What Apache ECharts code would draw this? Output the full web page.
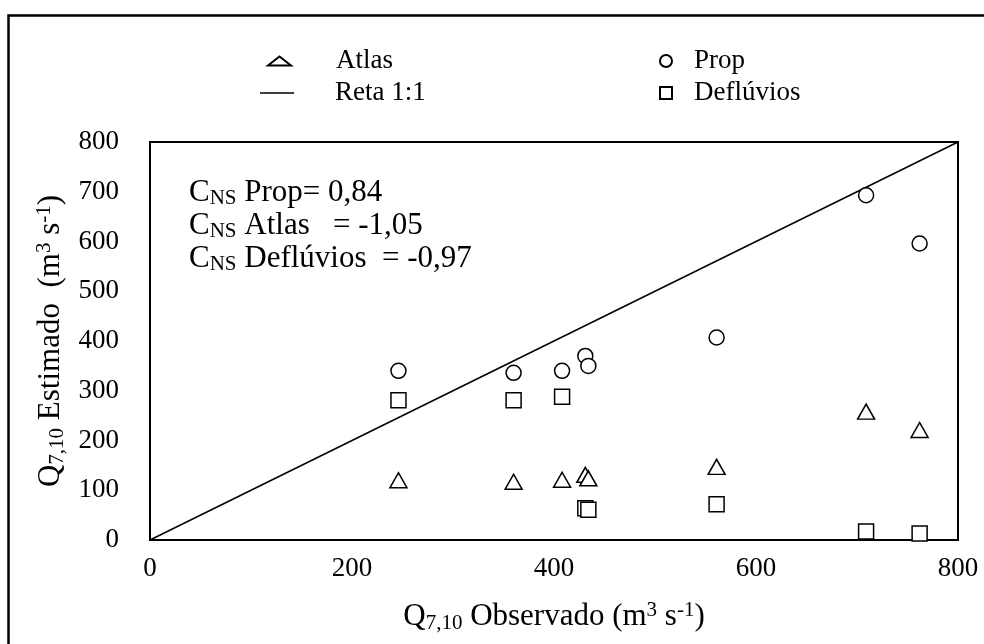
<!DOCTYPE html>
<html>
<head>
<meta charset="utf-8">
<script src="https://cdn.jsdelivr.net/npm/echarts@6/dist/echarts.min.js"></script>
<style>
  html, body { margin: 0; padding: 0; background: #fff; }
  #chart { width: 984px; height: 644px; }
</style>
</head>
<body>
<div id="chart"></div>
<script>
// Observed Q7,10 at each station (m3 s-1)
const observed = [246, 360, 408, 431, 434, 561, 709, 762];
// Estimated Q7,10 by each method (m3 s-1)
const prop = [340, 336, 340, 370, 350, 407, 693, 596];
const atlas = [120, 117, 121, 131, 124, 147, 258, 221];
const defluvios = [281, 281, 288, 64, 61, 72, 17, 13];
// 1:1 reference line end points
const oneToOne = [0, 800];
// Nash-Sutcliffe coefficients shown in the plot
const nsLabels = ['Prop= 0,84', 'Atlas   = -1,05', 'Deflúvios  = -0,97'];
// Axis range
const axisMin = 0, axisMax = 800, xStep = 200, yStep = 100;

const FONT = '"Liberation Serif", "Times New Roman", serif';

const pairs = (ys) => observed.map((x, i) => [x, ys[i]]);

const hollow = { color: '#fff', borderColor: '#000', borderWidth: 1.5, opacity: 1 };

const axisTitleRich = {
  b: { fontFamily: FONT, fontSize: 31, fontWeight: 'normal', lineHeight: 34, color: '#000' },
  sub: { fontFamily: FONT, fontSize: 21, fontWeight: 'normal', lineHeight: 14, verticalAlign: 'bottom', color: '#000' },
  sup: { fontFamily: FONT, fontSize: 21, fontWeight: 'normal', lineHeight: 20, verticalAlign: 'top', color: '#000' }
};

const legendText = (pad) => ({
  fontFamily: FONT, fontSize: 27, color: '#000', lineHeight: 30, padding: [0, 0, 0, pad]
});

const chart = echarts.init(document.getElementById('chart'), null, { renderer: 'canvas' });

chart.setOption({
  animation: false,
  backgroundColor: '#fff',
  title: {
    left: 189,
    top: 176,
    padding: 0,
    text: nsLabels.map(t => '{c|C}{ns|NS}{c| ' + t + '}').join('\n'),
    textStyle: {
      fontWeight: 'normal',
      rich: {
        c: { fontFamily: FONT, fontSize: 31, fontWeight: 'normal', lineHeight: 33, color: '#000' },
        ns: { fontFamily: FONT, fontSize: 21, fontWeight: 'normal', lineHeight: 14, verticalAlign: 'bottom', color: '#000' }
      }
    }
  },
  legend: [
    {
      data: [{ name: 'Atlas', icon: 'triangle' }],
      left: 267, top: 46, padding: 0,
      itemWidth: 23, itemHeight: 9, symbolKeepAspect: false,
      textStyle: legendText(40), selectedMode: false
    },
    {
      data: [{ name: 'Reta 1:1', icon: 'rect', itemStyle: { color: '#000', borderWidth: 0 } }],
      left: 260, top: 78, padding: 0,
      itemWidth: 34, itemHeight: 1.6, symbolKeepAspect: false,
      textStyle: legendText(36), selectedMode: false
    },
    {
      data: [{ name: 'Prop', icon: 'circle' }],
      left: 659, top: 46, padding: 0,
      itemWidth: 12, itemHeight: 12,
      textStyle: legendText(17), selectedMode: false
    },
    {
      data: [{ name: 'Deflúvios', icon: 'rect' }],
      left: 659, top: 78, padding: 0,
      itemWidth: 12, itemHeight: 12,
      textStyle: legendText(17), selectedMode: false
    }
  ],
  grid: {
    left: 150, right: 26, top: 142, bottom: 104,
    show: true, borderColor: '#000', borderWidth: 2, backgroundColor: 'transparent',
    containLabel: false
  },
  xAxis: {
    type: 'value', min: axisMin, max: axisMax, interval: xStep,
    axisLine: { show: true, onZero: false, lineStyle: { color: '#000', width: 2 } },
    axisTick: { show: false },
    splitLine: { show: false },
    axisLabel: { fontFamily: FONT, fontSize: 27, color: '#000', margin: 15 },
    name: '{b|Q}{sub|7,10}{b| Observado (m}{sup|3}{b| s}{sup|-1}{b|)}',
    nameLocation: 'middle',
    nameGap: 60,
    nameTextStyle: { rich: axisTitleRich }
  },
  yAxis: {
    type: 'value', min: axisMin, max: axisMax, interval: yStep,
    axisLine: { show: true, onZero: false, lineStyle: { color: '#000', width: 2 } },
    axisTick: { show: false },
    splitLine: { show: false },
    axisLabel: { fontFamily: FONT, fontSize: 27, color: '#000', margin: 31 },
    name: '{b|Q}{sub|7,10}{b| Estimado  (m}{sup|3}{b| s}{sup|-1}{b|)}',
    nameLocation: 'middle',
    nameRotate: 90,
    nameGap: 80,
    nameTextStyle: { rich: axisTitleRich }
  },
  graphic: [
    {
      type: 'rect',
      shape: { x: 8.5, y: 15.5, width: 1200, height: 1000 },
      style: { fill: 'none', stroke: '#000', lineWidth: 2.5 },
      silent: true
    }
  ],
  series: [
    {
      name: 'Reta 1:1',
      type: 'line',
      data: oneToOne.map(v => [v, v]),
      symbol: 'none',
      lineStyle: { color: '#000', width: 1.5 },
      itemStyle: { color: '#000' },
      z: 1
    },
    {
      name: 'Atlas',
      type: 'scatter',
      symbol: 'triangle',
      symbolSize: [17, 15],
      data: pairs(atlas),
      itemStyle: hollow,
      z: 3
    },
    {
      name: 'Prop',
      type: 'scatter',
      symbol: 'circle',
      symbolSize: 15,
      data: pairs(prop),
      itemStyle: hollow,
      z: 3
    },
    {
      name: 'Deflúvios',
      type: 'scatter',
      symbol: 'rect',
      symbolSize: 15,
      data: pairs(defluvios),
      itemStyle: hollow,
      z: 3
    }
  ]
});
</script>
</body>
</html>
